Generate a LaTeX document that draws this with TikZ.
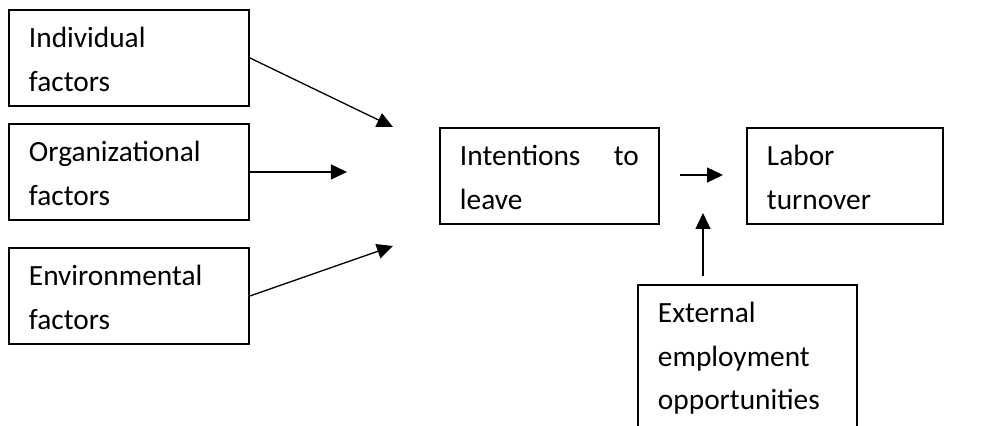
\documentclass[tikz,border=0pt]{standalone}
\usepackage{fontspec}
\setmainfont{Carlito}
\usetikzlibrary{arrows.meta}

\begin{document}
\begin{tikzpicture}[>={Triangle[length=0.32cm,width=0.3cm]},
  factor/.style={draw, line width=1.1pt, anchor=north west, align=left,
    inner xsep=0.4cm, inner ysep=0.18cm, text height=0.58cm, text depth=0.98cm,
    font=\fontsize{16.7}{24.5}\selectfont},
  link/.style={->, line width=0.75pt}]
\useasboundingbox (0,0) rectangle (19.86,-8.52);
% left column
\node[factor, text width=4cm] (ind) at (0.16,-0.18) {Individual\\factors};
\node[factor, text width=4cm] (org) at (0.16,-2.46) {Organizational\\factors};
\node[factor, text width=4cm] (env) at (0.16,-4.94) {Environmental\\factors};
% right part
\node[factor, text width=3.58cm] (int) at (8.78,-2.54) {Intentions\hfill to\\leave};
\node[factor, text width=3.12cm] (lab) at (14.92,-2.54) {Labor\\turnover};
\node[factor, text width=3.58cm, text depth=2.44cm] (ext) at (12.74,-5.68) {External\\employment\\opportunities};
% free arrow ends
\coordinate (indend) at (7.86,-2.54);
\coordinate (orgend) at ([xshift=1.94cm]org.east);
\coordinate (envend) at (7.86,-4.92);
\coordinate (midstart) at (13.6,-3.5);
\coordinate (midend) at (14.46,-3.5);
\coordinate (extstart) at (14.06,-5.52);
\coordinate (extend) at (14.06,-4.26);
\draw[link] (ind.east) -- (indend);
\draw[link] (org.east) -- (orgend);
\draw[link] (env.east) -- (envend);
\draw[link] (midstart) -- (midend);
\draw[link] (extstart) -- (extend);
\end{tikzpicture}
\end{document}
